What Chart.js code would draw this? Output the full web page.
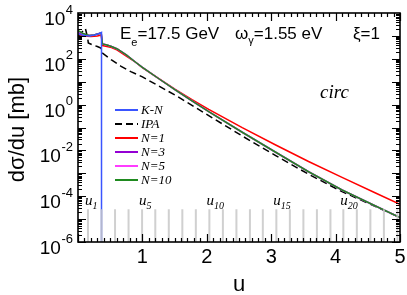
<!DOCTYPE html>
<html>
<head>
<meta charset="utf-8">
<script src="https://cdn.jsdelivr.net/npm/chart.js@4.4.1/dist/chart.umd.min.js"></script>
<style>
  html, body { margin: 0; padding: 0; background: #fff; }
  #chart { display: block; }
</style>
</head>
<body>
<canvas id="chart" width="407" height="295"></canvas>
<script>
// values (u, dsigma/du in mb)
const uKN = [0, 0.1, 0.18, 0.26, 0.33, 0.365, 0.365];
const sKN = [1.21e3, 1.04e3, 9.9e2, 1.09e3, 1.27e3, 1.41e3, 1e-6];

const uIPA = [0, 0.08, 0.115, 0.15, 0.16, 0.23, 0.3, 0.355, 0.375, 0.52, 0.67, 0.82, 1.0, 1.25, 1.51, 1.77, 2.03, 2.55, 3.07, 3.58, 4.1, 4.62, 5.0];
const sIPA = [9.9e2, 1.64e3, 2.1e3, 8.1e2, 4.9e2, 4.0e2, 3.45e2, 2.97e2, 1.8e2, 8.9e1, 4.65e1, 2.75e1, 1.62e1, 6.6, 2.57, 9.3e-1, 3.3e-1, 4.27e-2, 5.9e-3, 9.1e-4, 1.58e-4, 3.55e-5, 1.17e-5];

const uN1 = [0, 0.1, 0.2, 0.3, 0.36, 0.38, 0.45, 0.52, 0.61, 0.75, 0.9, 1.0, 1.25, 1.51, 1.77, 2.03, 2.55, 3.07, 3.58, 4.1, 4.62, 5.0];
const sN1 = [1.09e3, 9.9e2, 9.4e2, 9.9e2, 1.09e3, 3.8e2, 3.45e2, 3.1e2, 2.42e2, 1.32e2, 6.9e1, 4.07e1, 1.38e1, 4.66, 1.66, 6.24e-1, 9.8e-2, 1.72e-2, 3.27e-3, 6.68e-4, 1.38e-4, 4.37e-5];

const uN = [0, 0.08, 0.17, 0.25, 0.33, 0.36, 0.38, 0.45, 0.52, 0.61, 0.75, 0.9, 1.0, 1.25, 1.51, 1.77, 2.03, 2.55, 3.07, 3.58, 4.1, 4.62, 5.0];
const sN3 = [1.41e3, 1.2e3, 1.04e3, 1.09e3, 1.27e3, 1.34e3, 4.43e2, 4.0e2, 3.45e2, 2.68e2, 1.47e2, 6.9e1, 4.26e1, 1.38e1, 4.35, 1.44, 4.9e-1, 6.2e-2, 8.3e-3, 1.17e-3, 1.87e-4, 3.73e-5, 1.18e-5];
const sN5 = [1.6e3, 1.25e3, 1.04e3, 1.09e3, 1.27e3, 1.34e3, 4.43e2, 4.0e2, 3.45e2, 2.68e2, 1.47e2, 6.9e1, 4.26e1, 1.38e1, 4.35, 1.44, 4.9e-1, 6.2e-2, 8.3e-3, 1.17e-3, 1.87e-4, 3.73e-5, 1.18e-5];
const sN10 = [1.72e3, 1.27e3, 1.04e3, 1.09e3, 1.27e3, 1.34e3, 4.43e2, 4.0e2, 3.45e2, 2.68e2, 1.47e2, 6.9e1, 4.26e1, 1.38e1, 4.35, 1.44, 4.9e-1, 6.2e-2, 8.3e-3, 1.17e-3, 1.87e-4, 3.73e-5, 1.18e-5];

// harmonic edges u_n (grey marks) and the ones that get a label
const uEdges = [0.155, 0.365, 0.575, 0.785, 0.995, 1.2, 1.41, 1.62, 1.83, 2.04, 2.25, 2.46, 2.67, 2.87, 3.08, 3.29, 3.5, 3.71, 3.92, 4.12, 4.33, 4.54, 4.75, 4.96];
const edgeLabels = [1, 5, 10, 15, 20];
const edgeMarkTop = 2.7e-5;

const xTickLabels = [1, 2, 3, 4, 5];
const yTickExps = [4, 2, 0, -2, -4, -6];

const SANS = '"Liberation Sans", Arial, Helvetica, sans-serif';
const SERIF = '"Liberation Serif", "Times New Roman", serif';

function pts(u, s) {
    return u.map((v, i) => ({ x: v, y: s[i] }));
}

// draw a row of text pieces [text, font, dy]
function runs(ctx, x, y, parts, align) {
    let w = 0;
    parts.forEach(p => { ctx.font = p[1]; w += ctx.measureText(p[0]).width; });
    let cx = align === "right" ? x - w : align === "center" ? x - w / 2 : x;
    parts.forEach(p => {
        ctx.font = p[1];
        ctx.fillText(p[0], cx, y + (p[2] || 0));
        cx += ctx.measureText(p[0]).width;
    });
}

const decor = {
    id: "decor",
    afterDatasetsDraw(chart) {
        const { ctx, chartArea: a, scales: { x, y } } = chart;
        ctx.save();
        ctx.strokeStyle = "#000";
        ctx.lineWidth = 1.2;
        ctx.beginPath();
        for (let i = 0; i <= 50; i++) {
            const px = Math.round(x.getPixelForValue(i / 10)) + 0.5;
            const len = i % 10 === 0 ? 8 : 4;
            ctx.moveTo(px, a.bottom); ctx.lineTo(px, a.bottom - len);
            ctx.moveTo(px, a.top); ctx.lineTo(px, a.top + len);
        }
        for (let e = -6; e < 4; e++) {
            for (let k = 1; k < 10; k++) {
                const py = Math.round(y.getPixelForValue(k * Math.pow(10, e))) + 0.5;
                const len = k === 1 ? 8 : 4;
                ctx.moveTo(a.left, py); ctx.lineTo(a.left + len, py);
                ctx.moveTo(a.right, py); ctx.lineTo(a.right - len, py);
            }
        }
        ctx.stroke();
        ctx.lineWidth = 1.6;
        ctx.strokeRect(a.left, a.top, a.right - a.left, a.bottom - a.top);
        ctx.restore();
    },
    afterDraw(chart) {
        const { ctx, chartArea: a, scales: { x, y } } = chart;
        ctx.save();
        ctx.fillStyle = "#000";
        ctx.textBaseline = "alphabetic";
        ctx.textAlign = "left";

        // y tick labels 10^n
        yTickExps.forEach(n => {
            const py = y.getPixelForValue(Math.pow(10, n));
            ctx.font = "13px " + SANS;
            const sup = String(n);
            const sw = ctx.measureText(sup).width;
            ctx.fillText(sup, 73 - sw, py + 0.5);
            ctx.font = "19px " + SANS;
            ctx.textAlign = "right";
            ctx.fillText("10", 73 - sw - 0.5, py + 12);
            ctx.textAlign = "left";
        });

        // x tick labels
        ctx.font = "20px " + SANS;
        ctx.textAlign = "center";
        xTickLabels.forEach(v => ctx.fillText(String(v), x.getPixelForValue(v), 263));

        // axis titles
        ctx.font = "22px " + SANS;
        ctx.fillText("u", (a.left + a.right) / 2, 291);
        ctx.save();
        ctx.translate(24, (a.top + a.bottom) / 2 + 2);
        ctx.rotate(-Math.PI / 2);
        ctx.fillText("d\u03c3/du [mb]", 0, 0);
        ctx.restore();
        ctx.textAlign = "left";

        // header
        const big = "17px " + SANS, small = "11px " + SANS;
        runs(ctx, 120, 38.5, [["E", big], ["e", small, 7], ["=17.5 GeV", big]]);
        runs(ctx, 235, 38.5, [["\u03c9", big], ["\u03b3", small, 5], ["=1.55 eV", big]]);
        runs(ctx, 353, 38.5, [["\u03be=1", big]]);

        ctx.font = "italic 19px " + SERIF;
        ctx.fillText("circ", 320, 98);

        // u_n labels
        edgeLabels.forEach(n => {
            const px = x.getPixelForValue(uEdges[n - 1]) - 3;
            runs(ctx, px, 205, [["u", "italic 15px " + SERIF], [String(n), "italic 10px " + SERIF, 4]]);
        });

        // legend
        let row = 0;
        chart.data.datasets.forEach(ds => {
            if (!ds.label) return;
            const ly = 110 + row * 14;
            ctx.strokeStyle = ds.borderColor;
            ctx.lineWidth = 2;
            ctx.setLineDash(ds.borderDash || []);
            ctx.beginPath();
            ctx.moveTo(115, ly); ctx.lineTo(138, ly);
            ctx.stroke();
            ctx.setLineDash([]);
            ctx.font = "italic 13px " + SERIF;
            ctx.textBaseline = "middle";
            ctx.fillText(ds.label, 141, ly + 0.5);
            ctx.textBaseline = "alphabetic";
            row++;
        });
        ctx.restore();
    }
};

const line = (label, u, s, color, order, extra) => Object.assign({
    label: label,
    data: pts(u, s),
    borderColor: color,
    borderWidth: 1.5,
    pointRadius: 0,
    tension: 0,
    order: order
}, extra || {});

new Chart(document.getElementById("chart"), {
    type: "line",
    data: {
        datasets: [
            line("K-N", uKN, sKN, "#3a55ff", 1),
            line("IPA", uIPA, sIPA, "#000000", 5, { borderDash: [7, 4] }),
            line("N=1", uN1, sN1, "#ff0000", 6),
            line("N=3", uN, sN3, "#9400d3", 4),
            line("N=5", uN, sN5, "#ff3cff", 3),
            line("N=10", uN, sN10, "#1f8a1f", 2),
            {
                label: "",
                data: uEdges.flatMap(u => [{ x: u, y: 1e-6 }, { x: u, y: edgeMarkTop }, { x: u, y: null }]),
                borderColor: "rgba(200,200,200,0.85)",
                borderWidth: 2,
                pointRadius: 0,
                spanGaps: false,
                order: 0
            }
        ]
    },
    options: {
        responsive: false,
        animation: false,
        events: [],
        layout: { padding: { left: 78, right: 7, top: 13, bottom: 53 } },
        plugins: { legend: { display: false }, tooltip: { enabled: false } },
        scales: {
            x: {
                type: "linear", min: 0, max: 5,
                grid: { display: false, drawTicks: false },
                border: { display: false },
                ticks: { display: false }
            },
            y: {
                type: "logarithmic", min: 1e-6, max: 1e4,
                grid: { display: false, drawTicks: false },
                border: { display: false },
                ticks: { display: false }
            }
        }
    },
    plugins: [decor]
});
</script>
</body>
</html>
